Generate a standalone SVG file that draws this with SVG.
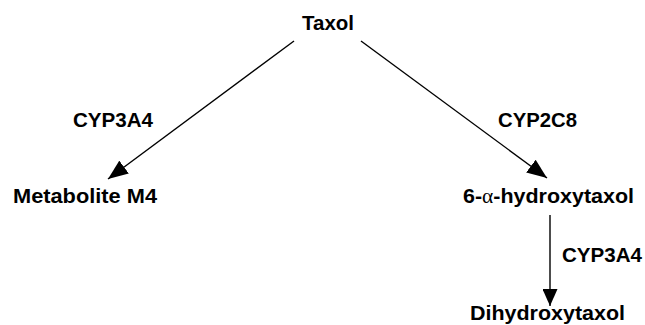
<svg xmlns="http://www.w3.org/2000/svg" width="645" height="325" viewBox="0 0 645 325">
<defs>
<style>
text{font-family:"Liberation Sans",Arial,sans-serif;font-size:21px;font-weight:bold;fill:#000}
.edge{stroke:#000;stroke-width:1.4;fill:none}
.greek{font-family:"Liberation Serif","DejaVu Serif",serif;font-weight:normal}
</style>
<marker id="ah" markerUnits="userSpaceOnUse" markerWidth="20" markerHeight="16" refX="20" refY="8" orient="auto"><path d="M0,0 L20,8 L0,16 z" fill="#000"/></marker>
<marker id="ahv" markerUnits="userSpaceOnUse" markerWidth="17" markerHeight="15" refX="17" refY="7.5" orient="auto"><path d="M0,0 L17,7.5 L0,15 z" fill="#000"/></marker>
</defs>
<rect width="645" height="325" fill="#fff"/>
<g id="connectors">
<line class="edge" x1="294" y1="41" x2="108" y2="179" marker-end="url(#ah)"/>
<line class="edge" x1="361" y1="41" x2="547" y2="178" marker-end="url(#ah)"/>
<line class="edge" x1="550" y1="215" x2="550" y2="306" marker-end="url(#ahv)"/>
<text x="73" y="127" textLength="80" lengthAdjust="spacingAndGlyphs">CYP3A4</text>
<text x="498" y="127" textLength="79" lengthAdjust="spacingAndGlyphs">CYP2C8</text>
<text x="562" y="262" textLength="80" lengthAdjust="spacingAndGlyphs">CYP3A4</text>
</g>
<g id="taxol"><text x="302" y="30" textLength="52" lengthAdjust="spacingAndGlyphs">Taxol</text></g>
<g id="m4"><text x="13" y="203" textLength="144" lengthAdjust="spacingAndGlyphs">Metabolite M4</text></g>
<g id="hydroxy"><text x="463" y="203" textLength="171" lengthAdjust="spacingAndGlyphs">6-<tspan class="greek">α</tspan>-hydroxytaxol</text></g>
<g id="dihydroxy"><text x="470" y="320" textLength="155" lengthAdjust="spacingAndGlyphs">Dihydroxytaxol</text></g>
</svg>
